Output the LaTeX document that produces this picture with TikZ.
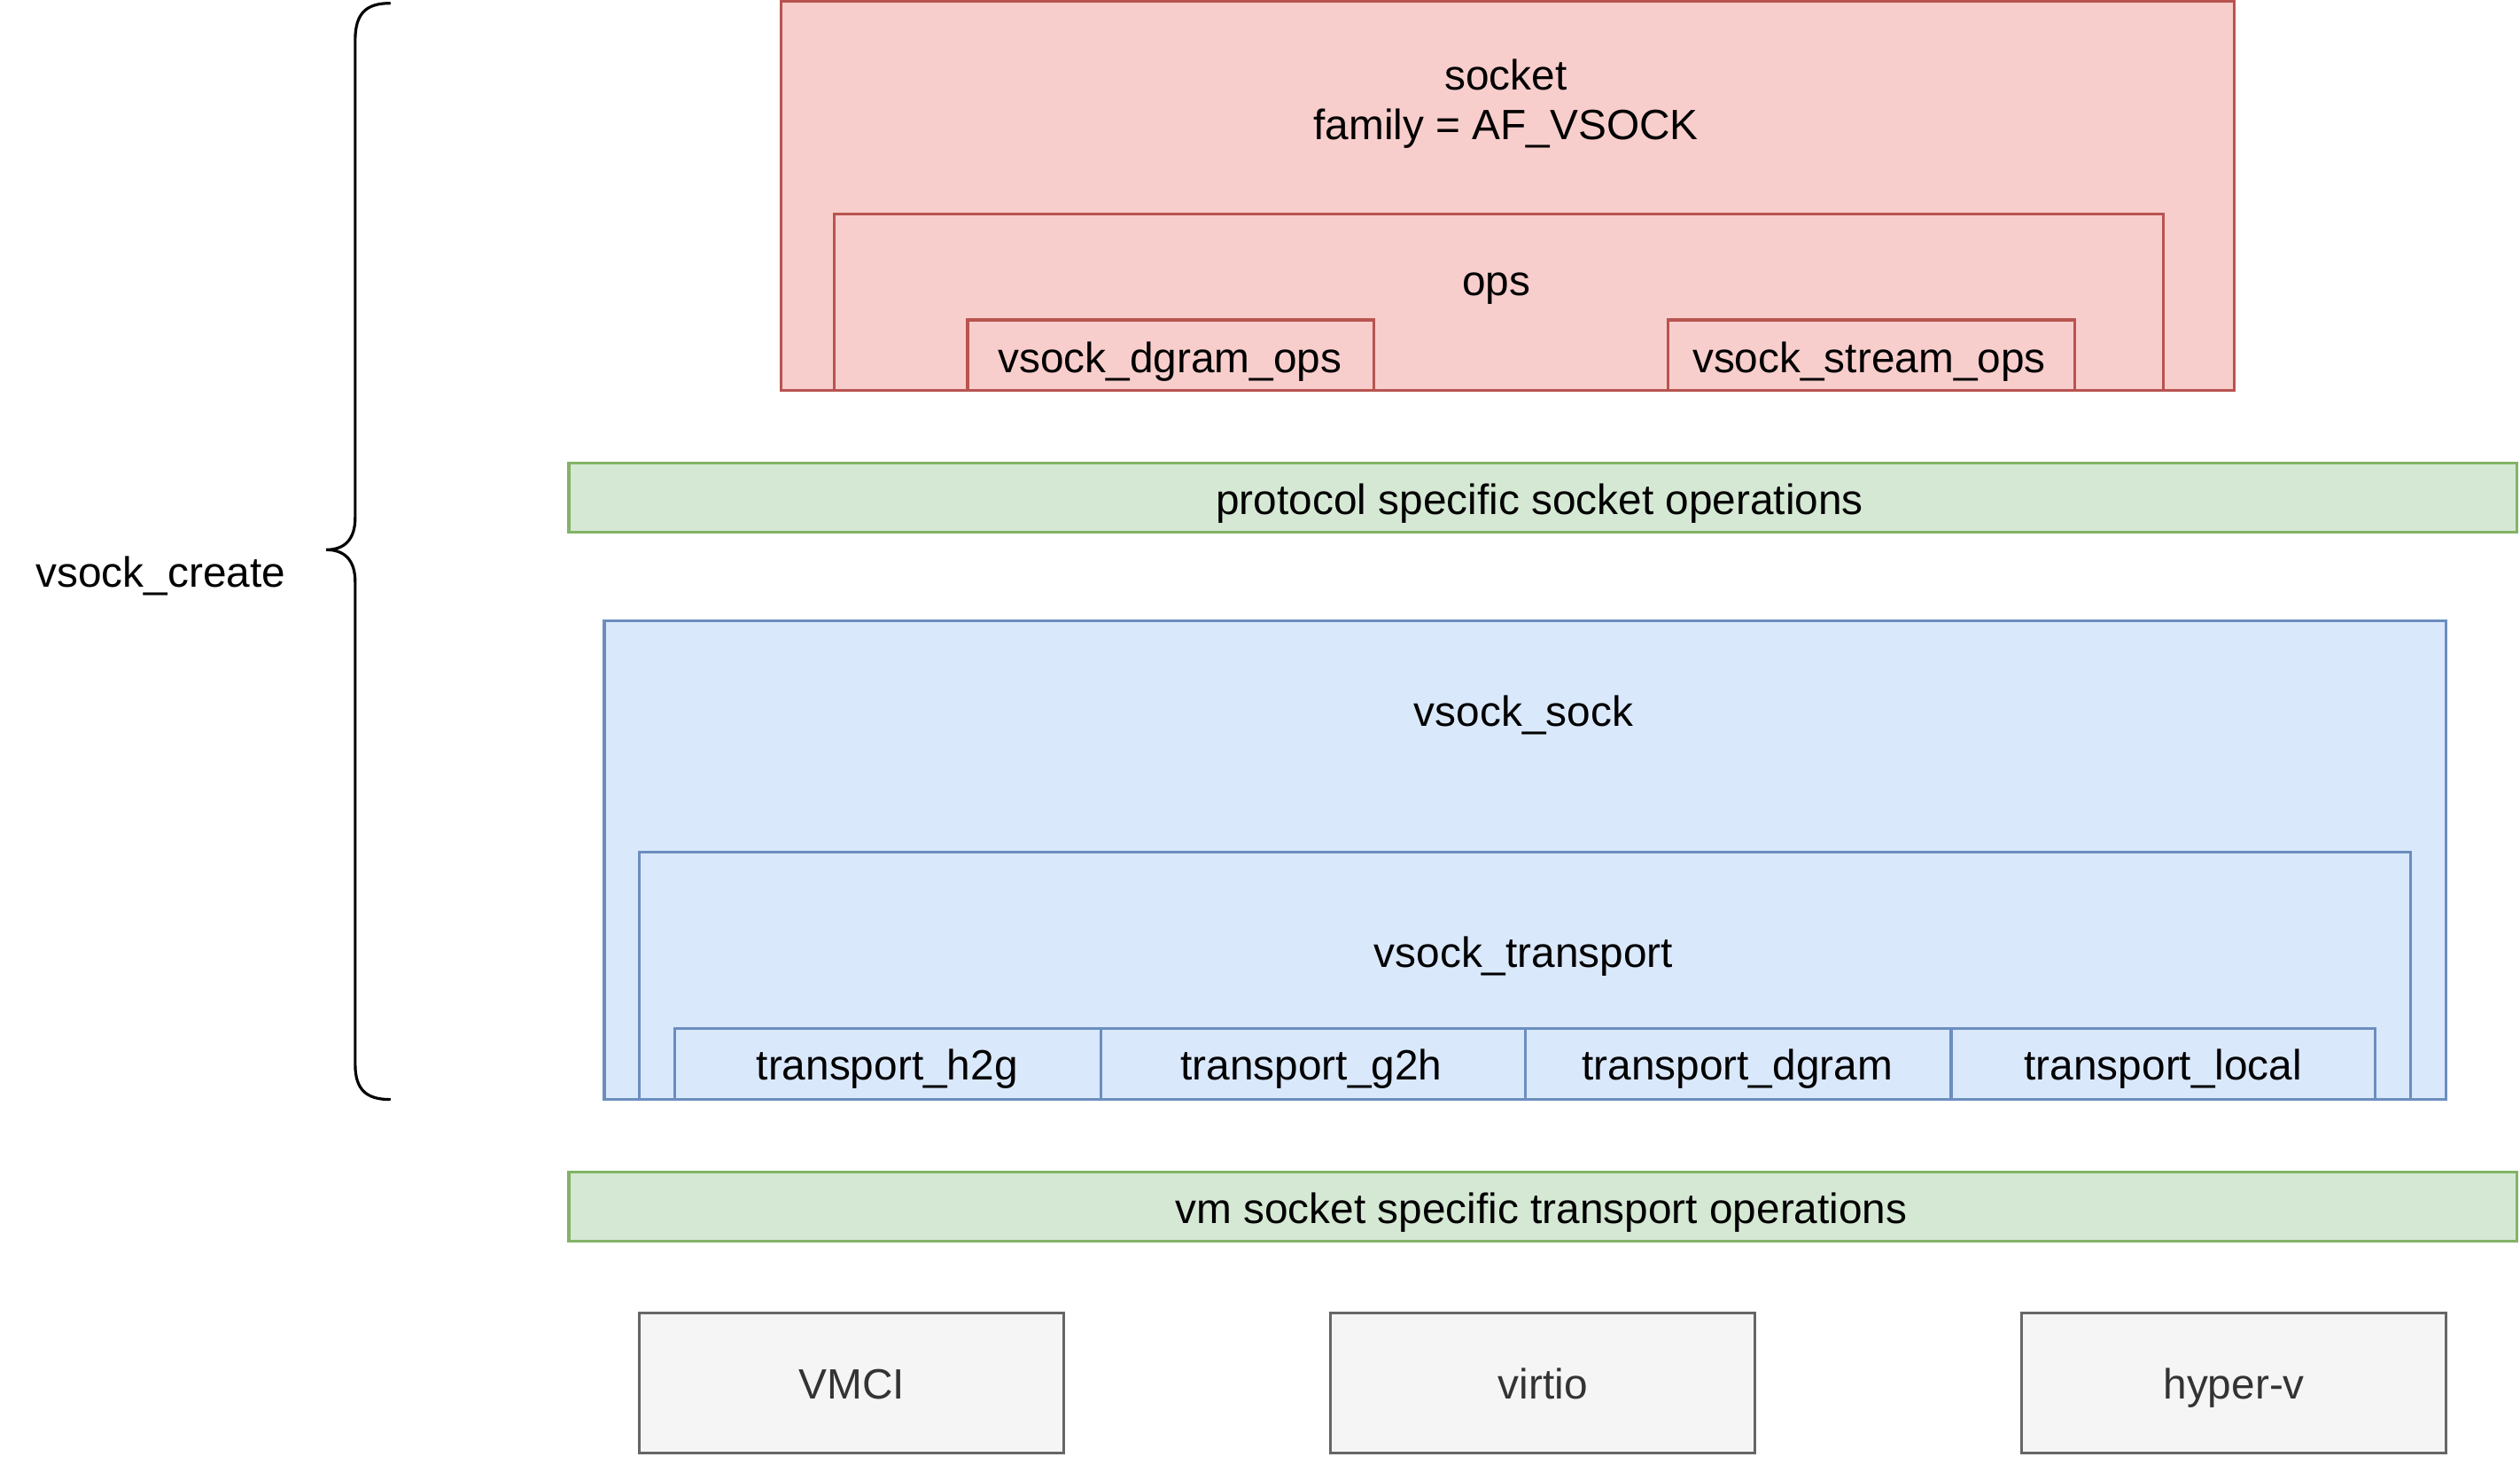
\documentclass[tikz,border=0pt]{standalone}
\usepackage{fontspec}
\setmainfont{Liberation Sans}
\definecolor{redfill}{HTML}{F8CECC}
\definecolor{redline}{HTML}{B85450}
\definecolor{greenfill}{HTML}{D5E8D4}
\definecolor{greenline}{HTML}{82B366}
\definecolor{bluefill}{HTML}{DAE8FC}
\definecolor{blueline}{HTML}{6C8EBF}
\definecolor{grayfill}{HTML}{F5F5F5}
\definecolor{grayline}{HTML}{666666}
\definecolor{graytext}{HTML}{333333}
\tikzset{
    redbox/.style={draw=redline, fill=redfill, line width=1pt},
    greenbox/.style={draw=greenline, fill=greenfill, line width=1pt},
    bluebox/.style={draw=blueline, fill=bluefill, line width=1pt},
    graybox/.style={draw=grayline, fill=grayfill, line width=1pt},
    lbl/.style={anchor=base, inner sep=0pt, align=center, font=\fontsize{15}{17.6}\selectfont}
}
\begin{document}
\begin{tikzpicture}[x=0.02cm, y=-0.02cm]
            \useasboundingbox (0,0) rectangle (1568,906);
            % socket
            \draw[redbox] (486,1) rectangle (1390,243);
            \node[lbl] (socket) at (937,87) {socket\\family = AF\_VSOCK};
            \draw[redbox] (519,133) rectangle (1346,243);
            \node[lbl] (ops) at (931,184) {ops};
            \draw[redbox] (602,199) rectangle (855,243);
            \node[lbl] (dgramops) at (728,232) {vsock\_dgram\_ops};
            \draw[redbox] (1038,199) rectangle (1291,243);
            \node[lbl] (streamops) at (1163,232) {vsock\_stream\_ops};
            % protocol
            \draw[greenbox] (354,288) rectangle (1566,331);
            \node[lbl] (proto) at (958,320) {protocol specific socket operations};
            % vsock_sock
            \draw[bluebox] (376,386) rectangle (1522,684);
            \node[lbl] (sock) at (948,452) {vsock\_sock};
            \draw[bluebox] (398,530) rectangle (1500,684);
            \node[lbl] (transport) at (948,602) {vsock\_transport};
            \draw[bluebox] (420,640) rectangle (685,684);
            \draw[bluebox] (685,640) rectangle (949,684);
            \draw[bluebox] (949,640) rectangle (1214,684);
            \draw[bluebox] (1214,640) rectangle (1478,684);
            \node[lbl] (h2g) at (552,672) {transport\_h2g};
            \node[lbl] (g2h) at (816,672) {transport\_g2h};
            \node[lbl] (tdgram) at (1081,672) {transport\_dgram};
            \node[lbl] (tlocal) at (1346,672) {transport\_local};
            % vm transport
            \draw[greenbox] (354,729) rectangle (1566,772);
            \node[lbl] (vmops) at (959,761) {vm socket specific transport operations};
            % backends
            \draw[graybox] (398,817) rectangle (662,904);
            \node[lbl, text=graytext] (vmci) at (530,870) {VMCI};
            \draw[graybox] (828,817) rectangle (1092,904);
            \node[lbl, text=graytext] (virtio) at (960,870) {virtio};
            \draw[graybox] (1258,817) rectangle (1522,904);
            \node[lbl, text=graytext] (hyperv) at (1390,870) {hyper-v};
            % brace
            \draw[line width=1pt] (243,2) .. controls (228,2) and (221,8) .. (221,25)
                -- (221,322) .. controls (221,336) and (214,342) .. (203,342)
                .. controls (214,342) and (221,348) .. (221,362)
                -- (221,662) .. controls (221,678) and (228,684) .. (243,684);
            \node[lbl] (create) at (100,365) {vsock\_create};
        \end{tikzpicture}
\end{document}
